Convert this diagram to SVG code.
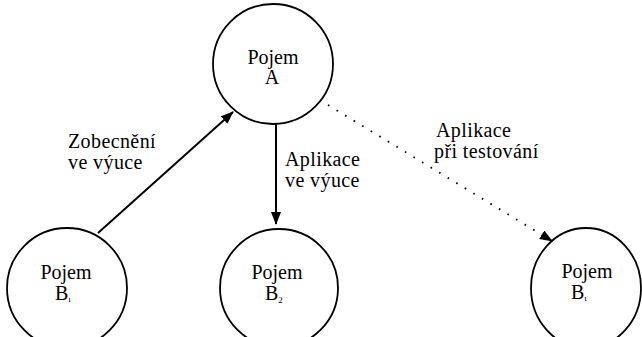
<svg xmlns="http://www.w3.org/2000/svg" width="642" height="337" viewBox="0 0 642 337">
  <style>
    .node { fill: none; stroke: #000; stroke-width: 1.8; }
    .lbl { font-family: "Liberation Serif", "Times New Roman", serif; font-size: 20px; fill: #000; }
    .el { letter-spacing: 0.4px; }
    .mid { text-anchor: middle; }
    .sub { font-size: 9px; }
    .edge { fill: none; stroke: #000; stroke-width: 2; }
    .dots { fill: none; stroke: #000; stroke-width: 1.8; stroke-dasharray: 1.6 8.4; }
  </style>
  <defs>
    <marker id="head" markerUnits="userSpaceOnUse" markerWidth="14" markerHeight="12" refX="12" refY="5" orient="auto">
      <path d="M0,0 L13,5 L0,10 z" fill="#000"/>
    </marker>
  </defs>
  <rect width="642" height="337" fill="#fff"/>

  <g id="node-a">
    <circle class="node" cx="273" cy="64" r="60"/>
    <text class="lbl mid" x="273" y="64">Pojem</text>
    <text class="lbl mid" x="272" y="84">A</text>
  </g>

  <g id="node-b1">
    <circle class="node" cx="67" cy="288" r="60"/>
    <text class="lbl mid" x="66" y="279">Pojem</text>
    <text class="lbl" x="55" y="300">B<tspan class="sub" dy="2">ı</tspan></text>
  </g>

  <g id="node-b2">
    <circle class="node" cx="279" cy="288" r="59"/>
    <text class="lbl mid" x="277" y="279">Pojem</text>
    <text class="lbl" x="265" y="300">B<tspan class="sub" dy="3">2</tspan></text>
  </g>

  <g id="node-bt">
    <ellipse class="node" cx="586" cy="288" rx="55" ry="60"/>
    <text class="lbl mid" x="587" y="278">Pojem</text>
    <text class="lbl" x="571" y="299">B<tspan class="sub" dy="2">ι</tspan></text>
  </g>

  <g id="connectors">
    <line class="edge" x1="98" y1="233" x2="233" y2="112" marker-end="url(#head)"/>
    <line class="edge" x1="276" y1="124" x2="276" y2="224" marker-end="url(#head)"/>
    <line class="dots" x1="328" y1="105" x2="552" y2="241" marker-end="url(#head)"/>
  </g>

  <g id="edge-labels">
    <text class="lbl el" x="68" y="148">Zobecnění</text>
    <text class="lbl el" x="68" y="169">ve výuce</text>
    <text class="lbl el" x="285" y="166">Aplikace</text>
    <text class="lbl el" x="285" y="187">ve výuce</text>
    <text class="lbl el" x="436" y="137">Aplikace</text>
    <text class="lbl el" x="434" y="158">při testování</text>
  </g>
</svg>
